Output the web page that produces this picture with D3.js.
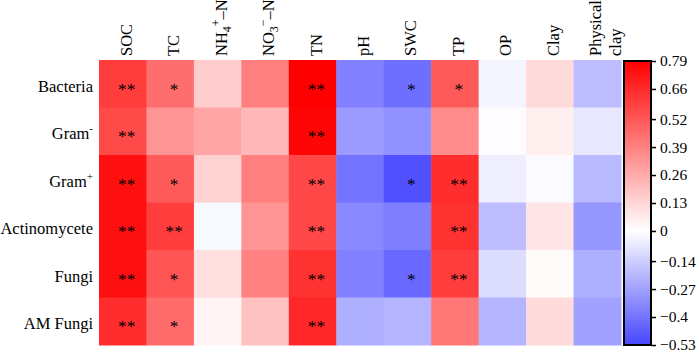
<!DOCTYPE html>
<html>
<head>
<meta charset="utf-8">
<script src="https://cdn.jsdelivr.net/npm/d3@7"></script>
<style>
  body { margin: 0; background: #fff; }
  text { font-family: "Liberation Serif", "Times New Roman", serif; fill: #000; }
</style>
</head>
<body>
<svg id="chart" width="699" height="352"></svg>
<script>
// rows (microbial groups) and columns (soil properties)
let rows = ["Bacteria", "Gram-", "Gram+", "Actinomycete", "Fungi", "AM Fungi"];
let cols = ["SOC", "TC", "NH4+-N", "NO3--N", "TN", "pH", "SWC", "TP", "OP", "Clay", "Physical clay"];

// correlation values, one array per row
let bacteria     = [0.60, 0.45, 0.155, 0.40, 0.79, -0.36, -0.415, 0.51, -0.03, 0.115, -0.19];
let gramNeg      = [0.56, 0.33, 0.28, 0.22, 0.77, -0.29, -0.315, 0.36, -0.005, 0.05, -0.07];
let gramPos      = [0.74, 0.51, 0.14, 0.40, 0.57, -0.40, -0.50, 0.65, -0.05, -0.015, -0.20];
let actinomycete = [0.74, 0.60, -0.02, 0.33, 0.57, -0.34, -0.37, 0.635, -0.19, 0.08, -0.30];
let fungi        = [0.74, 0.53, 0.10, 0.39, 0.635, -0.36, -0.43, 0.60, -0.10, 0.015, -0.23];
let amFungi      = [0.65, 0.46, 0.03, 0.19, 0.67, -0.23, -0.215, 0.42, -0.215, 0.11, -0.27];
let values = [bacteria, gramNeg, gramPos, actinomycete, fungi, amFungi];

// significance marks
let stars = [
    ["**", "*", "", "", "**", "", "*", "*", "", "", ""],
    ["**", "", "", "", "**", "", "", "", "", "", ""],
    ["**", "*", "", "", "**", "", "*", "**", "", "", ""],
    ["**", "**", "", "", "**", "", "", "**", "", "", ""],
    ["**", "*", "", "", "**", "", "*", "**", "", "", ""],
    ["**", "*", "", "", "**", "", "", "", "", "", ""]
];

let tickValues = [-0.53, -0.40, -0.27, -0.14, 0, 0.13, 0.26, 0.39, 0.52, 0.66, 0.79];
let tickLabels = ["\u22120.53", "\u22120.4", "\u22120.27", "\u22120.14", "0", "0.13", "0.26", "0.39", "0.52", "0.66", "0.79"];

let vmin = -0.53, vmax = 0.79;

function plot_heat() {
    let svg = d3.select("#chart");
    let fs = 16.5;

    let x = d3.scaleBand().domain(cols).range([99, 621]);
    let y = d3.scaleBand().domain(rows).range([60, 345]);
    let color = d3.scaleLinear()
        .domain([vmin, 0, vmax])
        .range(["#4646ff", "#ffffff", "#ff0000"]);

    let cells = [];
    values.forEach((r, i) => r.forEach((v, j) => {
        cells.push({row: rows[i], col: cols[j], v: v, s: stars[i][j]});
    }));

    let g = svg.append("g");
    g.selectAll("rect.cell")
        .data(cells)
        .enter().append("rect")
            .attr("class", "cell")
            .attr("x", d => x(d.col))
            .attr("y", d => y(d.row))
            .attr("width", x.bandwidth() + 0.5)
            .attr("height", y.bandwidth() + 0.5)
            .attr("fill", d => color(d.v));

    g.selectAll("text.star")
        .data(cells.filter(d => d.s))
        .enter().append("text")
            .attr("class", "star")
            .attr("x", d => x(d.col) + x.bandwidth() / 2 + 4)
            .attr("y", d => y(d.row) + y.bandwidth() / 2 + 11)
            .attr("text-anchor", "middle")
            .attr("font-size", 17.5)
            .text(d => d.s);

    // row labels
    let rl = svg.append("g").selectAll("text")
        .data(rows)
        .enter().append("text")
            .attr("x", 93)
            .attr("y", d => y(d) + y.bandwidth() / 2 + 8)
            .attr("text-anchor", "end")
            .attr("font-size", fs);
    rl.each(function(d) {
        let t = d3.select(this);
        if (d === "Gram-" || d === "Gram+") {
            t.append("tspan").text("Gram");
            t.append("tspan").attr("dy", -7).attr("font-size", 11).text(d === "Gram-" ? "-" : "+");
        } else {
            t.text(d);
        }
    });

    // column labels, rotated
    let cl = svg.append("g").selectAll("g")
        .data(cols)
        .enter().append("g")
            .attr("transform", d => `translate(${x(d) + x.bandwidth() / 2 + 9}, 56) rotate(-90)`);
    cl.each(function(d) {
        let g2 = d3.select(this);
        if (d === "Physical clay") {
            g2.append("text").attr("x", 0).attr("y", -5).attr("font-size", fs).text("Physical");
            g2.append("text").attr("x", 0).attr("y", 15).attr("font-size", fs).text("clay");
            return;
        }
        let t = g2.append("text").attr("font-size", fs);
        if (d === "NH4+-N") {
            t.append("tspan").text("NH");
            t.append("tspan").attr("dy", 4).attr("font-size", 12).text("4");
            t.append("tspan").attr("dy", -11).attr("font-size", 12).text("+");
            t.append("tspan").attr("dy", 7).text("\u2013N");
        } else if (d === "NO3--N") {
            t.append("tspan").text("NO");
            t.append("tspan").attr("dy", 4).attr("font-size", 12).text("3");
            t.append("tspan").attr("dy", -11).attr("font-size", 12).text("\u2212");
            t.append("tspan").attr("dy", 7).text("\u2013N");
        } else {
            t.text(d);
        }
    });

    // colour bar
    let cbX = 624, cbW = 27;
    let cy = d3.scaleLinear().domain([vmin, vmax]).range([345, 61]);
    let grad = svg.append("defs").append("linearGradient")
        .attr("id", "cbgrad")
        .attr("x1", 0).attr("y1", 1).attr("x2", 0).attr("y2", 0);
    [vmin, 0, vmax].forEach(v => {
        grad.append("stop")
            .attr("offset", (v - vmin) / (vmax - vmin))
            .attr("stop-color", color(v));
    });
    svg.append("rect")
        .attr("x", cbX)
        .attr("y", cy(vmax))
        .attr("width", cbW)
        .attr("height", cy(vmin) - cy(vmax))
        .attr("fill", "url(#cbgrad)")
        .attr("stroke", "#000")
        .attr("stroke-width", 2);

    let ax = svg.append("g")
        .attr("transform", `translate(${cbX + cbW}, 0)`)
        .call(d3.axisRight(cy)
            .tickValues(tickValues)
            .tickFormat((d, i) => tickLabels[i])
            .tickSize(5)
            .tickPadding(4));
    ax.select(".domain").remove();
    ax.selectAll(".tick line").attr("stroke", "#000").attr("stroke-width", 1.5);
    ax.selectAll(".tick text")
        .attr("font-family", "Liberation Serif, Times New Roman, serif")
        .attr("font-size", 15.5)
        .attr("fill", "#000");
}

document.addEventListener('DOMContentLoaded', () => {
    plot_heat();
});
</script>
</body>
</html>
